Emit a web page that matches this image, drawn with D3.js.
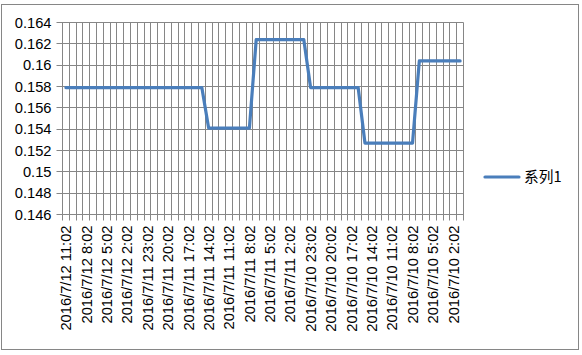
<!DOCTYPE html>
<html><head><meta charset="utf-8">
<script src="https://cdn.jsdelivr.net/npm/d3@7"></script>
<style>html,body{margin:0;padding:0;background:#fff;}svg{display:block;}</style>
</head><body>
<svg id="chart" width="582" height="355"></svg>
<script>
const categories = [
 "2016/7/12 11:02","2016/7/12 10:02","2016/7/12 9:02","2016/7/12 8:02","2016/7/12 7:02","2016/7/12 6:02",
 "2016/7/12 5:02","2016/7/12 4:02","2016/7/12 3:02","2016/7/12 2:02","2016/7/12 1:02","2016/7/12 0:02",
 "2016/7/11 23:02","2016/7/11 22:02","2016/7/11 21:02","2016/7/11 20:02","2016/7/11 19:02","2016/7/11 18:02",
 "2016/7/11 17:02","2016/7/11 16:02","2016/7/11 15:02","2016/7/11 14:02","2016/7/11 13:02","2016/7/11 12:02",
 "2016/7/11 11:02","2016/7/11 10:02","2016/7/11 9:02","2016/7/11 8:02","2016/7/11 7:02","2016/7/11 6:02",
 "2016/7/11 5:02","2016/7/11 4:02","2016/7/11 3:02","2016/7/11 2:02","2016/7/11 1:02","2016/7/11 0:02",
 "2016/7/10 23:02","2016/7/10 22:02","2016/7/10 21:02","2016/7/10 20:02","2016/7/10 19:02","2016/7/10 18:02",
 "2016/7/10 17:02","2016/7/10 16:02","2016/7/10 15:02","2016/7/10 14:02","2016/7/10 13:02","2016/7/10 12:02",
 "2016/7/10 11:02","2016/7/10 10:02","2016/7/10 9:02","2016/7/10 8:02","2016/7/10 7:02","2016/7/10 6:02",
 "2016/7/10 5:02","2016/7/10 4:02","2016/7/10 3:02","2016/7/10 2:02","2016/7/10 1:02"
];
const series1 = [
 0.1579,0.1579,0.1579,0.1579,0.1579,0.1579,0.1579,0.1579,0.1579,0.1579,0.1579,0.1579,
 0.1579,0.1579,0.1579,0.1579,0.1579,0.1579,0.1579,0.1579,0.1579,
 0.1541,0.1541,0.1541,0.1541,0.1541,0.1541,0.1541,
 0.1624,0.1624,0.1624,0.1624,0.1624,0.1624,0.1624,0.1624,
 0.1579,0.1579,0.1579,0.1579,0.1579,0.1579,0.1579,0.1579,
 0.1527,0.1527,0.1527,0.1527,0.1527,0.1527,0.1527,0.1527,
 0.1604,0.1604,0.1604,0.1604,0.1604,0.1604,0.1604
];
const xTickLabels = [
 "2016/7/12 11:02","2016/7/12 8:02","2016/7/12 5:02","2016/7/12 2:02","2016/7/11 23:02",
 "2016/7/11 20:02","2016/7/11 17:02","2016/7/11 14:02","2016/7/11 11:02","2016/7/11 8:02",
 "2016/7/11 5:02","2016/7/11 2:02","2016/7/10 23:02","2016/7/10 20:02","2016/7/10 17:02",
 "2016/7/10 14:02","2016/7/10 11:02","2016/7/10 8:02","2016/7/10 5:02","2016/7/10 2:02"
];
const yTicks = [0.146,0.148,0.15,0.152,0.154,0.156,0.158,0.16,0.162,0.164];
const yTickLabels = ["0.146","0.148","0.15","0.152","0.154","0.156","0.158","0.16","0.162","0.164"];
const seriesName = "系列1";

const svg = d3.select("#chart");
const L = 62.5, R = 463.5, T = 22.5, B = 214.5;
const grid = "#868686";
const font = "'Liberation Sans', Arial, sans-serif";

svg.append("rect").attr("x",1.5).attr("y",4.5).attr("width",577).attr("height",345)
  .attr("fill","#fff").attr("stroke",grid).attr("stroke-width",1);

const x = d3.scaleBand().domain(categories).range([L, R]).padding(0);
const y = d3.scaleLinear().domain([0.146, 0.164]).range([B, T]);
const bw = x.bandwidth();
const snap = v => Math.round(v - 0.5) + 0.5;

// vertical gridlines + ticks at category boundaries
const bounds = categories.map(c => x(c)).concat([R]);
svg.append("g").selectAll("line").data(bounds).join("line")
  .attr("x1", d => snap(d)).attr("x2", d => snap(d))
  .attr("y1", T).attr("y2", B + 6)
  .attr("stroke", grid).attr("stroke-width", 1);

// horizontal gridlines
svg.append("g").selectAll("line").data(yTicks).join("line")
  .attr("x1", L - 6).attr("x2", R)
  .attr("y1", d => snap(y(d))).attr("y2", d => snap(y(d)))
  .attr("stroke", grid).attr("stroke-width", 1);

// y axis labels
const yAxis = d3.axisLeft(y).tickValues(yTicks).tickSize(0).tickPadding(11)
  .tickFormat((d,i) => yTickLabels[i]);
const gy = svg.append("g").attr("transform", `translate(${L},0)`).call(yAxis);
gy.select(".domain").remove();
gy.selectAll("text").attr("font-family", font).attr("font-size", "14.7px").attr("fill", "#000");

// x axis labels
const xAxis = d3.axisBottom(x).tickValues(xTickLabels).tickSize(0);
const gx = svg.append("g").attr("transform", `translate(0,${B})`).call(xAxis);
gx.select(".domain").remove();
gx.selectAll("text")
  .attr("font-family", font).attr("font-size", "14.7px").attr("fill", "#000")
  .attr("transform", "rotate(-90)")
  .attr("text-anchor", "end")
  .attr("x", -11).attr("y", 0).attr("dy", "0.36em");

// series line
const line = d3.line()
  .x((d, i) => x(categories[i]) + bw / 2)
  .y(d => y(d));
svg.append("path").datum(series1)
  .attr("d", line).attr("fill", "none")
  .attr("stroke", "#4A7EBB").attr("stroke-width", 3.2)
  .attr("stroke-linejoin", "round").attr("stroke-linecap", "round");

// legend
const lg = svg.append("g").attr("transform", "translate(485,177)");
lg.append("line").attr("x1", 0).attr("x2", 34).attr("y1", 0).attr("y2", 0)
  .attr("stroke", "#4A7EBB").attr("stroke-width", 3.2).attr("stroke-linecap", "round");
lg.append("text").attr("x", 39).attr("y", 0).attr("dy", "0.36em")
  .attr("font-family", "'Noto Sans CJK SC', " + font).attr("font-size", "14.7px")
  .attr("fill", "#000").text(seriesName);
</script>
</body></html>
